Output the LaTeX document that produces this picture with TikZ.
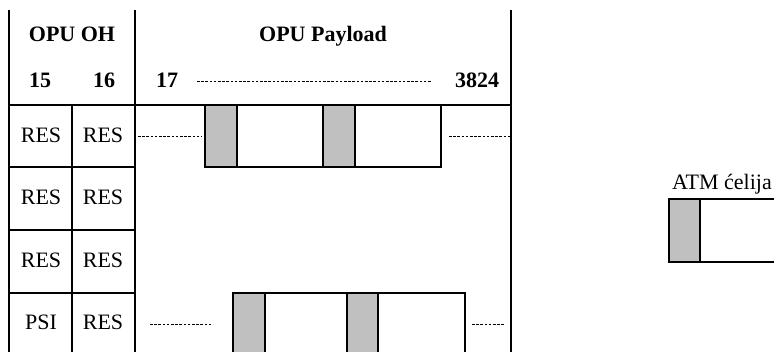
\documentclass[tikz,border=0pt]{standalone}
\usepackage{fontspec}
\setmainfont{Liberation Serif}
\definecolor{cellgray}{HTML}{C0C0C0}
\begin{document}
\begin{tikzpicture}[x=1pt,y=-1pt,line width=1.1pt,
  lab/.style={font=\fontsize{22}{26}\selectfont,inner sep=0,anchor=base},
  hd/.style={lab,font=\fontsize{22}{26}\selectfont\bfseries},
  dotline/.style={line width=0.6pt,dash pattern=on 2.6pt off 1.6pt},
  graycell/.style={draw,fill=cellgray},
  whitecell/.style={draw,fill=white}]
\useasboundingbox (0,0) rectangle (774,352);
\clip (0,0) rectangle (774,352);
% frame
\draw (9,10) -- (9,352);
\draw (135,10) -- (135,352);
\draw (511,10) -- (511,352);
\draw (9,105) -- (511,105);
\draw (72,105) -- (72,352);
\foreach \yy in {167,230,293} \draw (9,\yy) -- (135,\yy);
% headers
\node[hd] (oh) at (72,42) {OPU OH};
\node[hd] (pl) at (323,42) {OPU Payload};
\node[hd] (c15) at (40,88) {15};
\node[hd] (c16) at (104,88) {16};
\node[hd] (c17) at (167,88) {17};
\node[hd] (c3824) at (477,88) {3824};
\draw[dotline] (197,81) -- (432,81);
% overhead cells
\node[lab] (r1a) at (41,143) {RES};
\node[lab] (r1b) at (103,143) {RES};
\node[lab] (r2a) at (41,205) {RES};
\node[lab] (r2b) at (103,205) {RES};
\node[lab] (r3a) at (41,268) {RES};
\node[lab] (r3b) at (103,268) {RES};
\node[lab] (r4a) at (41,330) {PSI};
\node[lab] (r4b) at (103,330) {RES};
% row 1 payload
\draw[dotline] (138,136) -- (202,136);
\draw[graycell] (205,105) rectangle (237,167);
\draw[whitecell] (237,105) rectangle (323,167);
\draw[graycell] (323,105) rectangle (355,167);
\draw[whitecell] (355,105) rectangle (441,167);
\draw[dotline] (449,136) -- (511,136);
% row 4 payload
\draw[dotline] (150,324) -- (213,324);
\draw[graycell] (233,293) rectangle (265,360);
\draw[whitecell] (265,293) rectangle (347,360);
\draw[graycell] (347,293) rectangle (378,360);
\draw[whitecell] (378,293) rectangle (465,360);
\draw[dotline] (472,324) -- (505,324);
% ATM cell
\node[lab] (atm) at (722,190) {ATM ćelija};
\draw[graycell] (669,199) rectangle (700,262);
\draw (700,199) -- (780,199);
\draw (700,262) -- (780,262);
\end{tikzpicture}
\end{document}
